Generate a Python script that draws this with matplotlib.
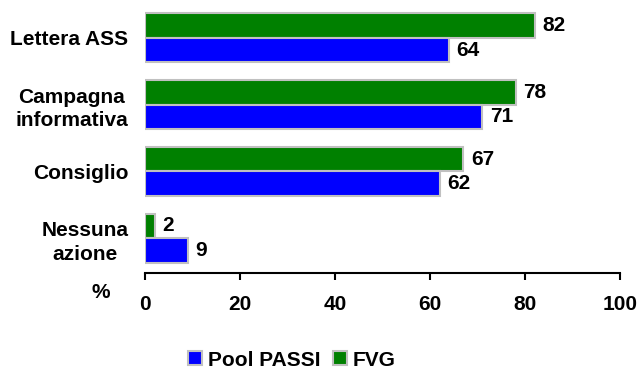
import matplotlib.pyplot as plt
import numpy as np

plt.rcParams['font.family'] = ['Liberation Sans', 'DejaVu Sans']
plt.rcParams['font.weight'] = 'bold'

# Data (top to bottom as in chart)
categories = ['Lettera ASS', 'Campagna\ninformativa', 'Consiglio', 'Nessuna\nazione']
pool_passi = [64, 71, 62, 9]
fvg = [82, 78, 67, 2]
xticks = [0, 20, 40, 60, 80, 100]

green = '#008000'
blue = '#0000FF'
edge = '#C0C0C0'
fs = 15

fig = plt.figure(figsize=(6.37, 3.69), dpi=100)
ax = fig.add_axes([145 / 637, (369 - 273) / 369, 475 / 637, 268 / 369])

n = len(categories)
y = np.arange(n)[::-1]
h = 0.37

b_fvg = ax.barh(y + h / 2, fvg, height=h, color=green, edgecolor=edge, linewidth=1.5, label='FVG')
b_pool = ax.barh(y - h / 2, pool_passi, height=h, color=blue, edgecolor=edge, linewidth=1.5, label='Pool PASSI')

for bars, vals in ((b_fvg, fvg), (b_pool, pool_passi)):
    for bar, v in zip(bars, vals):
        ax.text(bar.get_width() + 1.6, bar.get_y() + bar.get_height() / 2, str(v),
                va='center', ha='left', fontsize=fs, fontweight='bold')

ax.set_xlim(0, 100)
ax.set_ylim(-0.52, 3.49)
ax.set_xticks(xticks)
ax.set_xticklabels([str(t) for t in xticks], fontsize=fs, fontweight='bold')
ax.set_yticks(y)
ax.set_yticklabels(categories, fontsize=fs, fontweight='bold', multialignment='center',
                   linespacing=1.3)
ax.tick_params(axis='y', length=0, pad=12)
ax.tick_params(axis='x', length=5, width=1.5, pad=11)

for s in ('top', 'right', 'left'):
    ax.spines[s].set_visible(False)
ax.spines['bottom'].set_linewidth(1.5)

fig.text(101 / 637, 1 - 293 / 369, '%', ha='center', va='center', fontsize=fs, fontweight='bold')

handles = [b_pool, b_fvg]
fig.legend(handles, ['Pool PASSI', 'FVG'], loc='center', bbox_to_anchor=(292 / 637, 1 - 360 / 369),
           ncol=2, frameon=False, fontsize=fs, handlelength=0.65, handleheight=0.65,
           handletextpad=0.3, columnspacing=0.6, borderaxespad=0)

fig.savefig('out.png', dpi=100)
